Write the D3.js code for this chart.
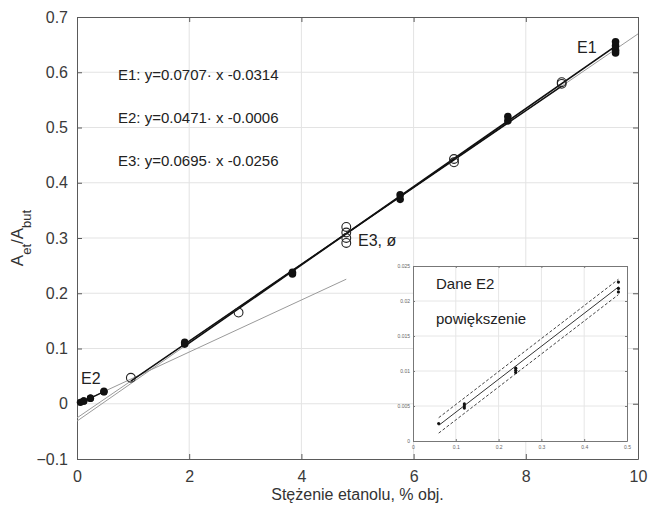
<!DOCTYPE html>
<html>
<head>
<meta charset="utf-8">
<script src="https://cdn.jsdelivr.net/npm/d3@7"></script>
<style>
  body { margin: 0; background: #fff; }
  text { font-family: "Liberation Sans", Arial, sans-serif; }
</style>
</head>
<body>
<div id="chart"></div>
<script>
// E1 series (filled), E3 series (open circles), E2 series (small range)
const e1X = [1.92, 1.92, 3.84, 3.84, 5.76, 5.76, 7.68, 7.68, 9.6, 9.6, 9.6, 9.6];
const e1Y = [0.108, 0.111, 0.235, 0.238, 0.370, 0.378, 0.512, 0.520, 0.635, 0.640, 0.648, 0.655];
const e3X = [0.96, 2.88, 4.8, 4.8, 4.8, 4.8, 6.72, 6.72, 8.64, 8.64];
const e3Y = [0.047, 0.165, 0.291, 0.300, 0.310, 0.320, 0.437, 0.443, 0.579, 0.582];
const e2X = [0.06, 0.12, 0.12, 0.12, 0.24, 0.24, 0.24, 0.48, 0.48, 0.48];
const e2Y = [0.0025, 0.0047, 0.0050, 0.0053, 0.0098, 0.0101, 0.0104, 0.0213, 0.0218, 0.0227];

// fits: slope, intercept
const fitE1 = [0.0707, -0.0314];
const fitE2 = [0.0471, -0.0006];
const fitE3 = [0.0695, -0.0256];
const e2Band = 0.0011;

const equations = ["E1: y=0.0707· x -0.0314", "E2: y=0.0471· x -0.0006", "E3: y=0.0695· x -0.0256"];
const xTicks = [0, 2, 4, 6, 8, 10];
const yTicks = [-0.1, 0, 0.1, 0.2, 0.3, 0.4, 0.5, 0.6, 0.7];
const insetXTicks = [0, 0.1, 0.2, 0.3, 0.4, 0.5];
const insetYTicks = [0, 0.005, 0.01, 0.015, 0.02, 0.025];

const width = 649, height = 513;
const m = { left: 77, right: 11, top: 17, bottom: 54 };

const svg = d3.select("#chart").append("svg")
  .attr("width", width).attr("height", height);

const x = d3.scaleLinear().domain([0, 10]).range([m.left, width - m.right]);
const y = d3.scaleLinear().domain([-0.1, 0.7]).range([height - m.bottom, m.top]);

const fline = (f, a, b, sx, sy) => [[sx(a), sy(f[0] * a + f[1])], [sx(b), sy(f[0] * b + f[1])]];
const zip = (xs, ys) => xs.map((v, i) => [v, ys[i]]);
const mean = (xs, ys) => d3.groups(zip(xs, ys), d => d[0]).map(([k, v]) => [k, d3.mean(v, d => d[1])]);

// grid
const grid = svg.append("g").attr("stroke", "#e3e3e3").attr("stroke-width", 1);
grid.selectAll(".gx").data(xTicks.slice(1, -1)).join("line")
  .attr("x1", d => x(d)).attr("x2", d => x(d)).attr("y1", y(-0.1)).attr("y2", y(0.7));
grid.selectAll(".gy").data(yTicks.slice(1, -1)).join("line")
  .attr("y1", d => y(d)).attr("y2", d => y(d)).attr("x1", x(0)).attr("x2", x(10));

// axes (ticks inward, box)
const axisCol = "#5a5a5a";
const ax = svg.append("g").attr("transform", `translate(0,${y(-0.1)})`)
  .call(d3.axisBottom(x).tickValues(xTicks).tickSizeInner(-5).tickSizeOuter(0).tickPadding(12));
const ay = svg.append("g").attr("transform", `translate(${x(0)},0)`)
  .call(d3.axisLeft(y).tickValues(yTicks).tickFormat(d3.format("")).tickSizeInner(-5).tickSizeOuter(0).tickPadding(9));
const at = svg.append("g").attr("transform", `translate(0,${y(0.7)})`)
  .call(d3.axisTop(x).tickValues(xTicks).tickSizeInner(-5).tickSizeOuter(0).tickFormat(""));
const ar = svg.append("g").attr("transform", `translate(${x(10)},0)`)
  .call(d3.axisRight(y).tickValues(yTicks).tickSizeInner(-5).tickSizeOuter(0).tickFormat(""));
[ax, ay, at, ar].forEach(g => {
  g.selectAll("path, line").attr("stroke", axisCol);
  g.selectAll("text").attr("fill", "#3a3a3a").style("font-size", "16px");
});

// y label
svg.append("text")
  .attr("transform", `translate(23,${(y(-0.1) + y(0.7)) / 2}) rotate(-90)`)
  .attr("text-anchor", "middle").attr("fill", "#333").style("font-size", "17px")
  .html('A<tspan baseline-shift="sub" font-size="13px">et</tspan>/A<tspan baseline-shift="sub" font-size="13px">but</tspan>');
// x label
svg.append("text").attr("x", (x(0) + x(10)) / 2).attr("y", 500)
  .attr("text-anchor", "middle").attr("fill", "#333").style("font-size", "16px")
  .text("Stężenie etanolu, % obj.");

// thin grey extrapolated fits
const line = d3.line();
const plot = svg.append("g");
plot.append("path").attr("d", line(fline(fitE3, 0, 10, x, y))).attr("stroke", "#9a9a9a").attr("stroke-width", 1).attr("fill", "none");
plot.append("path").attr("d", line(fline(fitE1, 0, 9.6, x, y))).attr("stroke", "#9a9a9a").attr("stroke-width", 1).attr("fill", "none");
plot.append("path").attr("d", line(fline(fitE2, 0, 4.8, x, y))).attr("stroke", "#9a9a9a").attr("stroke-width", 1).attr("fill", "none");

// black fitted lines over data range
plot.append("path").attr("d", line(fline(fitE3, 0.96, 8.64, x, y))).attr("stroke", "#111").attr("stroke-width", 1.5).attr("fill", "none");
plot.append("path").attr("d", line(fline(fitE1, 1.92, 9.6, x, y))).attr("stroke", "#111").attr("stroke-width", 1.7).attr("fill", "none");
plot.append("path").attr("d", line(mean(e2X, e2Y).map(d => [x(d[0]), y(d[1])]))).attr("stroke", "#111").attr("stroke-width", 1.4).attr("fill", "none");

// points
plot.selectAll(".e1").data(zip(e1X, e1Y)).join("circle")
  .attr("cx", d => x(d[0])).attr("cy", d => y(d[1])).attr("r", 3.8).attr("fill", "#111");
plot.selectAll(".e2").data(zip(e2X, e2Y)).join("circle")
  .attr("cx", d => x(d[0])).attr("cy", d => y(d[1])).attr("r", 3.6).attr("fill", "#111");
plot.selectAll(".e3").data(zip(e3X, e3Y)).join("circle")
  .attr("cx", d => x(d[0])).attr("cy", d => y(d[1])).attr("r", 4.4)
  .attr("fill", "none").attr("stroke", "#222").attr("stroke-width", 1.1);

// annotations
svg.selectAll(".eq").data(equations).join("text")
  .attr("x", 118).attr("y", (d, i) => 80 + i * 43)
  .attr("fill", "#222").style("font-size", "15px").text(d => d);
svg.append("text").attr("x", 577).attr("y", 53).attr("fill", "#222").style("font-size", "16px").text("E1");
svg.append("text").attr("x", 81).attr("y", 384).attr("fill", "#222").style("font-size", "16px").text("E2");
svg.append("text").attr("x", 358).attr("y", 246).attr("fill", "#222").style("font-size", "16px").text("E3, ø");

// inset
const ix = d3.scaleLinear().domain([0, 0.5]).range([413, 627]);
const iy = d3.scaleLinear().domain([0, 0.025]).range([441, 266]);
const inset = svg.append("g");
inset.append("rect").attr("x", 413).attr("y", 266).attr("width", 214).attr("height", 175).attr("fill", "#fff");
const igrid = inset.append("g").attr("stroke", "#e6e6e6");
igrid.selectAll(".gx").data(insetXTicks.slice(1, -1)).join("line")
  .attr("x1", d => ix(d)).attr("x2", d => ix(d)).attr("y1", iy(0)).attr("y2", iy(0.025));
igrid.selectAll(".gy").data(insetYTicks.slice(1, -1)).join("line")
  .attr("y1", d => iy(d)).attr("y2", d => iy(d)).attr("x1", ix(0)).attr("x2", ix(0.5));
const iax = [
  inset.append("g").attr("transform", `translate(0,${iy(0)})`)
    .call(d3.axisBottom(ix).tickValues(insetXTicks).tickFormat(d3.format("")).tickSizeInner(-2).tickSizeOuter(0).tickPadding(4)),
  inset.append("g").attr("transform", `translate(${ix(0)},0)`)
    .call(d3.axisLeft(iy).tickValues(insetYTicks).tickFormat(d3.format("")).tickSizeInner(-2).tickSizeOuter(0).tickPadding(3)),
  inset.append("g").attr("transform", `translate(0,${iy(0.025)})`)
    .call(d3.axisTop(ix).tickValues(insetXTicks).tickFormat("").tickSizeInner(-2).tickSizeOuter(0)),
  inset.append("g").attr("transform", `translate(${ix(0.5)},0)`)
    .call(d3.axisRight(iy).tickValues(insetYTicks).tickFormat("").tickSizeInner(-2).tickSizeOuter(0))
];
iax.forEach(g => {
  g.selectAll("path, line").attr("stroke", "#777");
  g.selectAll("text").attr("fill", "#666").style("font-size", "5px");
});
const xs = d3.extent(e2X);
inset.append("path").attr("d", line(fline(fitE2, xs[0], xs[1], ix, iy))).attr("stroke", "#333").attr("stroke-width", 1).attr("fill", "none");
[e2Band, -e2Band].forEach(b => {
  inset.append("path").attr("d", line(fline([fitE2[0], fitE2[1] + b], xs[0], xs[1], ix, iy)))
    .attr("stroke", "#444").attr("stroke-width", 1).attr("stroke-dasharray", "3,2").attr("fill", "none");
});
inset.selectAll(".p").data(zip(e2X, e2Y)).join("circle")
  .attr("cx", d => ix(d[0])).attr("cy", d => iy(d[1])).attr("r", 1.6).attr("fill", "#111");
inset.append("text").attr("x", 436).attr("y", 289).attr("fill", "#222").style("font-size", "15px").text("Dane E2");
inset.append("text").attr("x", 436).attr("y", 324).attr("fill", "#222").style("font-size", "15px").text("powiększenie");
</script>
</body>
</html>
